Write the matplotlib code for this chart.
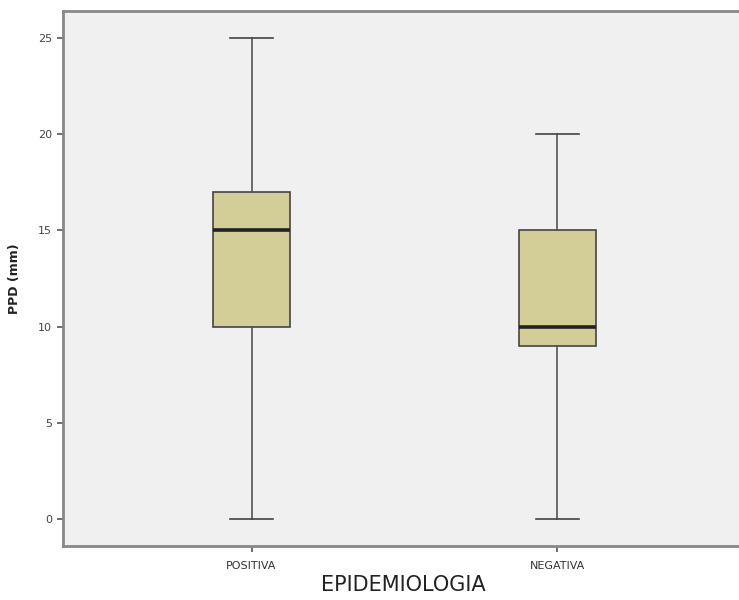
import matplotlib
matplotlib.use("Agg")
import matplotlib.pyplot as plt

# data
groups = ["POSITIVA", "NEGATIVA"]
mins = [0, 0]
q1s = [10, 9]
medians = [15, 10]
q3s = [17, 15]
maxs = [25, 20]
yticks = [0, 5, 10, 15, 20, 25]


def main():
	fig = plt.figure(figsize=(7.39, 6.0), dpi=100)
	ax = fig.add_axes([0.0853, 0.09, 0.92, 0.8917])
	ax.set_facecolor("#f0f0f0")

	stats = []
	for i in range(len(groups)):
		stats.append({"label": groups[i], "whislo": mins[i], "q1": q1s[i],
					  "med": medians[i], "q3": q3s[i], "whishi": maxs[i], "fliers": []})

	ax.bxp(stats, positions=[1, 2], widths=0.25, patch_artist=True, showfliers=False,
		   boxprops=dict(facecolor="#d3ce97", edgecolor="#444444", linewidth=1.2),
		   medianprops=dict(color="#222222", linewidth=2.6),
		   whiskerprops=dict(color="#555555", linewidth=1.2),
		   capprops=dict(color="#444444", linewidth=1.2),
		   capwidths=0.14)

	ax.set_xlim(0.384, 2.606)
	ax.set_ylim(-1.40, 26.40)
	ax.set_yticks(yticks)
	ax.set_yticklabels([str(t) for t in yticks], fontsize=8, color="#444444")
	ax.set_xticks([1, 2])
	ax.set_xticklabels(groups, fontsize=8, color="#333333")
	ax.tick_params(axis="both", length=4, width=1.2, color="#555555")
	ax.tick_params(axis="x", pad=7)
	ax.tick_params(axis="y", pad=4)

	for s in ["left", "bottom", "top"]:
		ax.spines[s].set_color("#888888")
		ax.spines[s].set_linewidth(2.0)
	ax.spines["right"].set_visible(False)

	ax.set_ylabel("PPD (mm)", fontsize=9, fontweight="bold", color="#222222", labelpad=12)
	ax.set_xlabel("EPIDEMIOLOGIA", fontsize=15, color="#222222", labelpad=3)

	fig.savefig("out.png", dpi=100)


if __name__ == '__main__':
	main()
